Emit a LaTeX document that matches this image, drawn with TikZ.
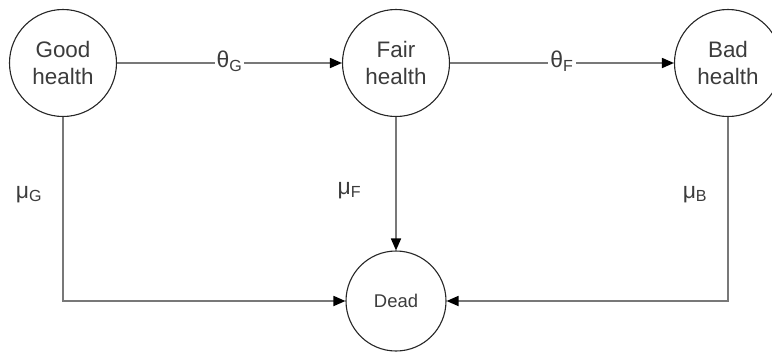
\documentclass[tikz,border=0pt]{standalone}
\usepackage{fontspec}
\setmainfont{Liberation Sans}
\usetikzlibrary{positioning, arrows.meta}
\definecolor{linegray}{RGB}{120, 120, 120}
\definecolor{textgray}{RGB}{60, 60, 60}

\begin{document}
\begin{tikzpicture}[x=1bp, y=-1bp,
        state/.style={circle, draw=black!85, line width=1.1bp, fill=white,
            minimum size=107bp, inner sep=0pt, align=center, text=textgray,
            font=\fontsize{22.5}{28}\selectfont},
        link/.style={draw=linegray, line width=1.7bp,
            -{Triangle[length=12bp, width=10bp, color=black]}},
        rate/.style={fill=white, inner sep=2bp, text=textgray,
            font=\fontsize{23}{26}\selectfont}
    ]
    \useasboundingbox (0,0) rectangle (772,351);

    \node[state] (good) at (63, 63) {Good\\health};
    \node[state] (fair) at (396, 63) {Fair\\health};
    \node[state] (bad) at (728, 63) {Bad\\health};
    \node[state, minimum size=100bp, font=\fontsize{18.5}{22}\selectfont] (dead) at (396, 301) {Dead};

    \draw[link] (good) -- node[rate, yshift=2bp] {θ\textsubscript{G}} (fair);
    \draw[link] (fair) -- node[rate, yshift=2bp] {θ\textsubscript{F}} (bad);

    \draw[link] (good) |- node[pos=0.21, left=18bp, rate] {μ\textsubscript{G}} (dead);
    \draw[link] (fair) -- node[pos=0.55, left=32bp, rate] {μ\textsubscript{F}} (dead);
    \draw[link] (bad) |- node[pos=0.21, left=18bp, rate] {μ\textsubscript{B}} (dead);
\end{tikzpicture}
\end{document}
